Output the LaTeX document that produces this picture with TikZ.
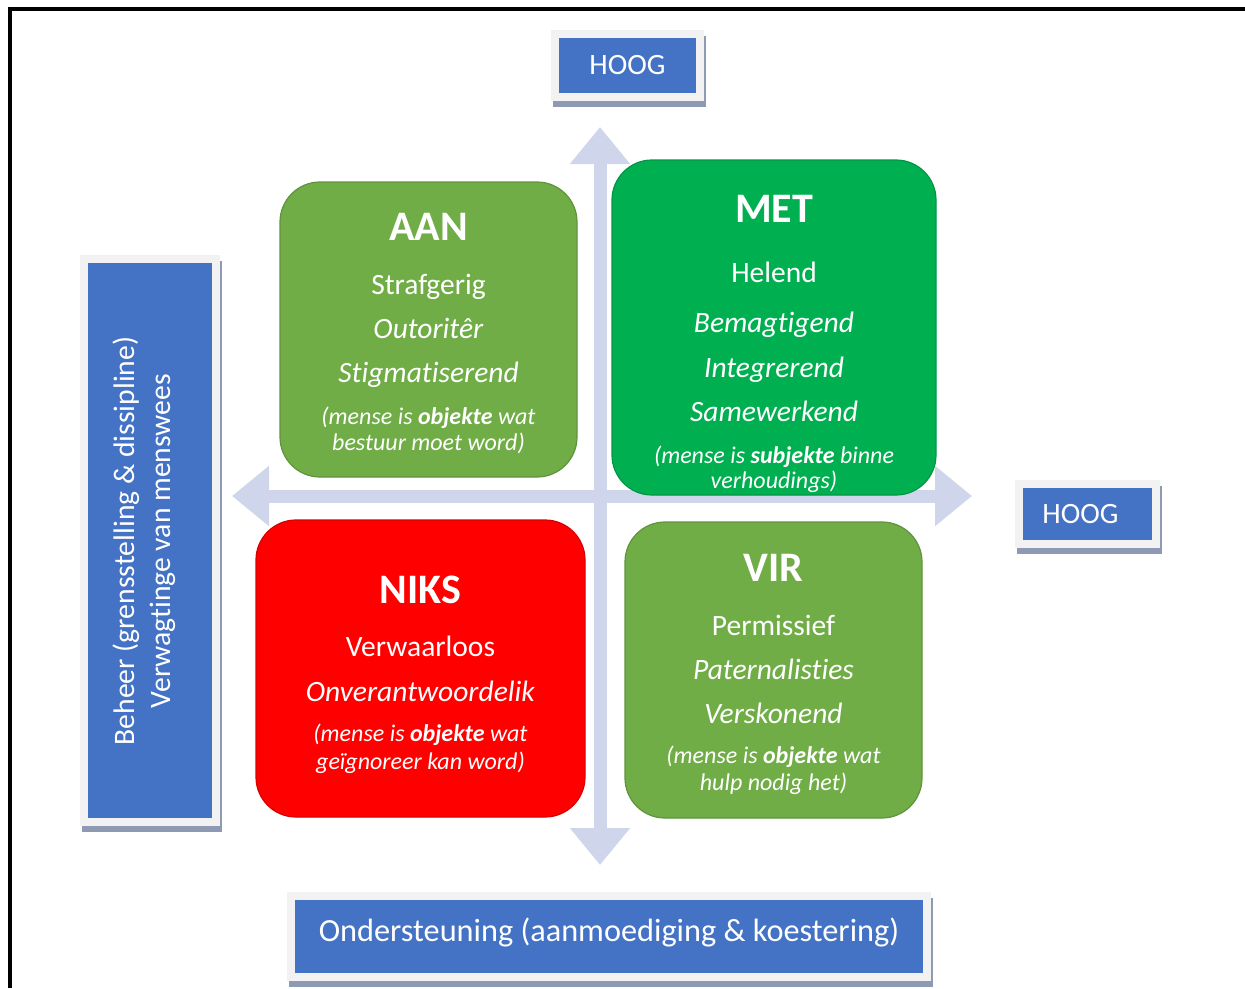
\documentclass[tikz,border=0pt]{standalone}
\usepackage{fontspec}
\setmainfont{Carlito}[Ligatures=NoCommon]
\usepackage{tikz}
\usetikzlibrary{arrows.meta}
\definecolor{lblue}{HTML}{4472C4}
\definecolor{lgray}{HTML}{F2F2F2}
\definecolor{sgray}{HTML}{8E9AB3}
\definecolor{axcol}{HTML}{CFD6EB}
\definecolor{olive}{HTML}{70AD47}
\definecolor{mgreen}{HTML}{00B050}
\definecolor{nred}{HTML}{FF0000}
\newcommand\fs[2]{\fontsize{#1}{#2}\selectfont}
\newcommand\ttl[1]{{\fs{42}{44}\bfseries #1}}
\newcommand\prn[1]{{\fs{24}{44}\itshape #1}}
\tikzstyle{tagbox}=[fill=lblue,text=white,inner sep=0pt,outer sep=0pt,
	preaction={draw=sgray,fill=sgray,line width=16pt,transform canvas={shift={(2pt,-6pt)}}},
	preaction={draw=lgray,line width=16pt}]
\tikzstyle{quad}=[rounded corners=40pt,line width=1.2pt,inner sep=0pt]
\tikzstyle{quadtxt}=[anchor=north,inner sep=0pt,text=white,align=center,font=\fs{29.5}{44}]
\tikzstyle{axisarrow}=[draw=axcol,line width=13pt,
	{Triangle[width=58pt,length=37pt]}-{Triangle[width=58pt,length=37pt]}]

\begin{document}
\begin{tikzpicture}[x=1pt,y=-1pt]
	\useasboundingbox (0,0) rectangle (1245,988);
	\coordinate (fbl) at (10,988);
	\coordinate (ftl) at (10,9);
	\coordinate (ftr) at (1245,9);
	\draw[line width=4pt] (fbl) -- (ftl) -- (ftr);
	% axes
	\coordinate (atop) at (600,127);
	\coordinate (abot) at (600,865);
	\coordinate (alft) at (232,496);
	\coordinate (argt) at (972,496);
	\draw[axisarrow] (abot) -- (atop);
	\draw[axisarrow] (alft) -- (argt);
	% quadrants
	\node[quad,fill=olive,draw=olive!85!black,minimum width=297pt,minimum height=295pt] (aan) at (428.5,329.5) {};
	\node[quad,fill=mgreen,draw=mgreen!85!black,minimum width=324pt,minimum height=335pt] (met) at (774,327.5) {};
	\node[quad,fill=nred,draw=nred!85!black,minimum width=329pt,minimum height=297pt] (niks) at (420.5,668.5) {};
	\node[quad,fill=olive,draw=olive!85!black,minimum width=297pt,minimum height=296pt] (vir) at (773.5,670) {};
	\node[quadtxt] (aant) at (428.5,213.3) {\ttl{AAN}\\[10pt] Strafgerig\\ \textit{Outoritêr}\\ \textit{Stigmatiserend}\\[-2pt]
		\prn{(mense is \textbf{objekte} wat}\\[-18pt] \prn{bestuur moet word)}};
	\node[quadtxt] (mett) at (774,195.3) {\ttl{MET}\\[16pt] Helend\\[6pt] \textit{Bemagtigend}\\[1pt] \textit{Integrerend}\\ \textit{Samewerkend}\\[-2pt]
		\prn{(mense is \textbf{subjekte} binne}\\[-19pt] \prn{verhoudings)}};
	\node[quadtxt] (nikst) at (420.5,575.3) {\ttl{NIKS}\\[9pt] Verwaarloos\\[1pt] \textit{Onverantwoordelik}\\[-4pt]
		\prn{(mense is \textbf{objekte} wat}\\[-16pt] \prn{geïgnoreer kan word)}};
	\node[quadtxt] (virt) at (773.5,554.3) {\ttl{VIR}\\[10pt] Permissief\\ \textit{Paternalisties}\\ \textit{Verskonend}\\[-4pt]
		\prn{(mense is \textbf{objekte} wat}\\[-17pt] \prn{hulp nodig het)}};
	% labels
	\node[tagbox,minimum width=137pt,minimum height=55pt,font=\fs{29.5}{34}] (hoogy) at (627.5,65.5) {HOOG};
	\node[tagbox,minimum width=129pt,minimum height=52pt,font=\fs{29.5}{34}] (hoogx) at (1087.5,514) {HOOG\hspace*{14pt}};
	\node[tagbox,minimum width=124pt,minimum height=555pt] (beheer) at (150,540.5) {};
	\node[rotate=90,anchor=north,inner sep=0pt,text=white,align=center,font=\fs{29.7}{35.5}] (behtxt) at (113,541)
		{Beheer (grensstelling \& dissipline)\\ Verwagtinge van menswees};
	\node[tagbox,minimum width=628pt,minimum height=73pt] (onder) at (609,936.5) {};
	\node[text=white,inner sep=0pt,font=\fs{32.3}{38}] (ondertxt) at (609,932) {Ondersteuning (aanmoediging \& koestering)};
\end{tikzpicture}
\end{document}
